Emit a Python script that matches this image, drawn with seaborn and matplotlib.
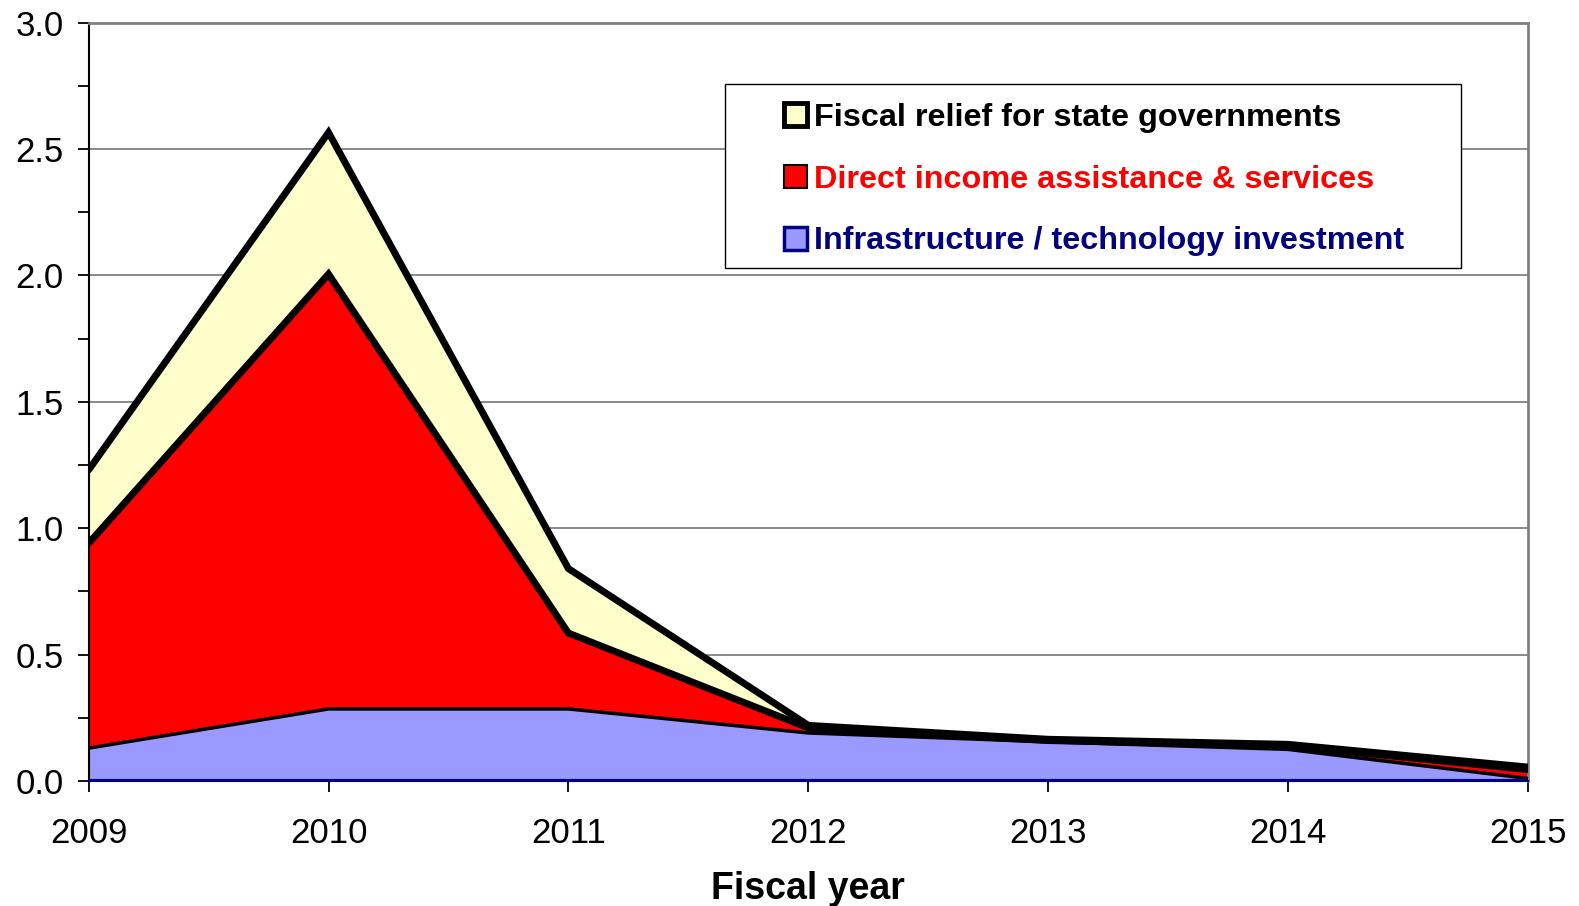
import numpy as np
import pandas as pd
import matplotlib
matplotlib.use("Agg")
import matplotlib.pyplot as plt
import seaborn as sns
from matplotlib.patches import Patch, Rectangle
from matplotlib.ticker import MultipleLocator, FormatStrFormatter

# ---- data ----
years = [2009, 2010, 2011, 2012, 2013, 2014, 2015]
infrastructure = [0.13, 0.285, 0.285, 0.19, 0.155, 0.125, 0.01]
direct_income = [0.81, 1.72, 0.30, 0.02, 0.005, 0.015, 0.035]
fiscal_relief = [0.29, 0.56, 0.255, 0.01, 0.005, 0.005, 0.01]
series_labels = ["Fiscal relief for state governments",
                 "Direct income assistance & services",
                 "Infrastructure / technology investment"]
x_label = "Fiscal year"

sns.set_theme(style="white")
plt.rcParams['font.family'] = ['Liberation Sans', 'DejaVu Sans']

df = pd.DataFrame({"year": years, "infra": infrastructure,
                   "direct": direct_income, "fiscal": fiscal_relief})
df["infra_top"] = df["infra"]
df["direct_top"] = df["infra_top"] + df["direct"]
df["total"] = df["direct_top"] + df["fiscal"]

fig = plt.figure(figsize=(15.79, 9.06), dpi=100)
ax = fig.add_axes([88.6 / 1579, 1 - 781 / 906, (1528 - 88.6) / 1579, (781 - 22.5) / 906])

YELLOW = "#FFFFCC"
RED = "#FF0000"
BLUE = "#9999FF"
NAVY = "#000080"

ax.fill_between(df["year"], 0, df["infra_top"], color=BLUE, lw=0, zorder=2)
ax.fill_between(df["year"], df["infra_top"], df["direct_top"], color=RED, lw=0, zorder=2)
ax.fill_between(df["year"], df["direct_top"], df["total"], color=YELLOW, lw=0, zorder=2)

sns.lineplot(data=df, x="year", y="infra_top", color="black", lw=2.5, ax=ax,
             legend=False, zorder=3)
sns.lineplot(data=df, x="year", y="direct_top", color="black", lw=5.0, ax=ax,
             legend=False, zorder=4, solid_joinstyle="miter")
sns.lineplot(data=df, x="year", y="total", color="black", lw=5.0, ax=ax,
             legend=False, zorder=5, solid_joinstyle="miter")
ax.axhline(0, color=NAVY, lw=3, zorder=6)

ax.set_xlim(2009, 2015)
ax.set_ylim(0, 3.0)
ax.set_xticks(years)
ax.set_xticklabels([str(y) for y in years])
ax.yaxis.set_major_locator(MultipleLocator(0.5))
ax.yaxis.set_minor_locator(MultipleLocator(0.25))
ax.yaxis.set_major_formatter(FormatStrFormatter("%.1f"))

ax.set_axisbelow(True)
ax.yaxis.grid(True, which="major", color="#808080", lw=1.3, zorder=0)
ax.xaxis.grid(False)

for side in ["top", "right"]:
    ax.spines[side].set_color("#808080")
    ax.spines[side].set_linewidth(2)
ax.spines["left"].set_color("black")
ax.spines["left"].set_linewidth(1.5)
ax.spines["bottom"].set_color(NAVY)
ax.spines["bottom"].set_linewidth(1.5)

ax.tick_params(axis="y", which="major", direction="out", length=8, width=1.3,
               color="black", labelsize=25, pad=10, left=True)
ax.tick_params(axis="y", which="minor", direction="out", length=8, width=1.3,
               color="black", left=True)
ax.tick_params(axis="x", which="major", direction="out", length=8, width=1.3,
               color="black", labelsize=25, pad=18, bottom=True)
for lab in ax.get_xticklabels() + ax.get_yticklabels():
    lab.set_color("black")

ax.set_xlabel(x_label, fontsize=27, fontweight="bold", color="black", labelpad=15)
ax.set_ylabel("")

# ---- legend ----
frame = Rectangle((725 / 1579, 1 - 268 / 906), 736 / 1579, 184 / 906,
                  transform=fig.transFigure, facecolor="white",
                  edgecolor="black", lw=1.0, zorder=10, clip_on=False)
ax.add_patch(frame)

handles = [Patch(facecolor=YELLOW, edgecolor="black", linewidth=3.5),
           Patch(facecolor=RED, edgecolor="black", linewidth=1.5),
           Patch(facecolor=BLUE, edgecolor=NAVY, linewidth=2.5)]
leg = ax.legend(handles, series_labels, loc="upper left",
                bbox_to_anchor=(784 / 1579, 1 - 103 / 906), bbox_transform=fig.transFigure,
                frameon=False, borderpad=0, borderaxespad=0,
                handlelength=0.72, handleheight=0.72, handletextpad=0.22,
                labelspacing=0.98,
                prop={"weight": "bold", "size": 23.3},
                labelcolor=["black", RED, NAVY])
leg.set_zorder(11)

fig.savefig("out.png", dpi=100)
